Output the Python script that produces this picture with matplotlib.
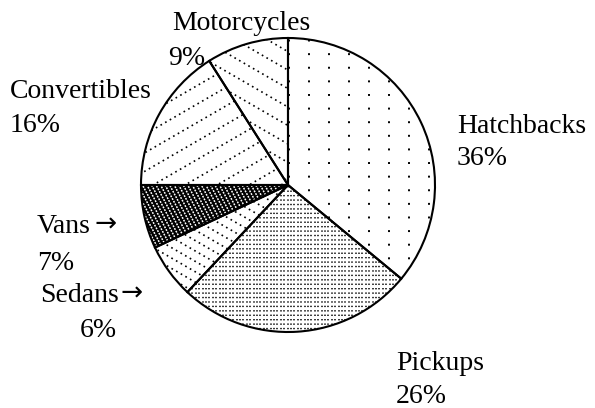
import numpy as np
import matplotlib

matplotlib.use('Agg')
import matplotlib.pyplot as plt  # noqa: E402
from matplotlib.collections import LineCollection  # noqa: E402

categories = ['Hatchbacks', 'Pickups', 'Sedans', 'Vans', 'Convertibles', 'Motorcycles']
shares = [36, 26, 6, 7, 16, 9]

W, H = 595, 408
R_PX = 147.0


def px(x, y):
    return x / W, 1 - y / H


def hatch_wedge(axis, wedge, angle, spacing_px, color='black', lw=1.0, dash=(1, 2.5)):
    spacing = spacing_px / R_PX
    theta = np.radians(angle)
    d = np.array([np.cos(theta), np.sin(theta)])
    n = np.array([-d[1], d[0]])
    segs = []
    for off in np.arange(-1.5, 1.5 + spacing, spacing):
        c = n * off
        segs.append([c - 1.6 * d, c + 1.6 * d])
    ls = (0, dash) if dash else 'solid'
    lc = LineCollection(segs, colors=color, linewidths=lw, linestyles=[ls], zorder=2)
    lc.set_clip_path(wedge)
    axis.add_collection(lc)


figure = plt.figure(figsize=(W / 100, H / 100), dpi=100)
cx, cy = 288, 185
axis = figure.add_axes([(cx - R_PX) / W, (H - cy - R_PX) / H, 2 * R_PX / W, 2 * R_PX / H])

face = ['white', 'white', 'white', 'black', 'white', 'white']
wedges, _ = axis.pie(shares, startangle=90, counterclock=False, colors=face, radius=1,
                     wedgeprops=dict(edgecolor='none', linewidth=0, zorder=1))

# texture of each slice
hatch_wedge(axis, wedges[0], 90, 20, lw=1.4, dash=(1, 6))
hatch_wedge(axis, wedges[1], 90, 3.4, lw=1.1, dash=(0.9, 2.0))
hatch_wedge(axis, wedges[2], -30, 9, lw=1.2, dash=(1, 2.2))
hatch_wedge(axis, wedges[3], -62, 4, color='white', lw=1.1, dash=(1.2, 0.8))
hatch_wedge(axis, wedges[4], 30, 16, lw=1.2, dash=(1, 2.2))
hatch_wedge(axis, wedges[5], -30, 16, lw=1.2, dash=(1, 2.2))

# outlines on top of the texture
axis.pie(shares, startangle=90, counterclock=False, radius=1,
         wedgeprops=dict(fill=False, edgecolor='black', linewidth=1.5, zorder=3))
axis.set_xlim(-1, 1)
axis.set_ylim(-1, 1)
axis.axis('off')

font = dict(family=['Liberation Serif', 'DejaVu Serif'], fontsize=20, va='baseline')
arrow_font = dict(family='DejaVu Sans', fontsize=19, va='baseline')
positions = {
    'Hatchbacks': ((457, 133), (457, 165), None),
    'Pickups': ((396, 370), (396, 403), None),
    'Sedans': ((40, 302), (80, 337), 121),
    'Vans': ((37, 233), (37, 270), 94),
    'Convertibles': ((10, 98), (10, 132), None),
    'Motorcycles': ((172, 30), (168, 65), None),
}
for name, share in zip(categories, shares):
    (nx, ny), (vx, vy), arrow_x = positions[name]
    figure.text(*px(nx, ny), name, **font)
    figure.text(*px(vx, vy), f'{share}%', **font)
    if arrow_x is not None:
        figure.text(*px(arrow_x, ny - 1), '\u2192', **arrow_font)

figure.savefig('out.png', dpi=100)
plt.close(figure)
